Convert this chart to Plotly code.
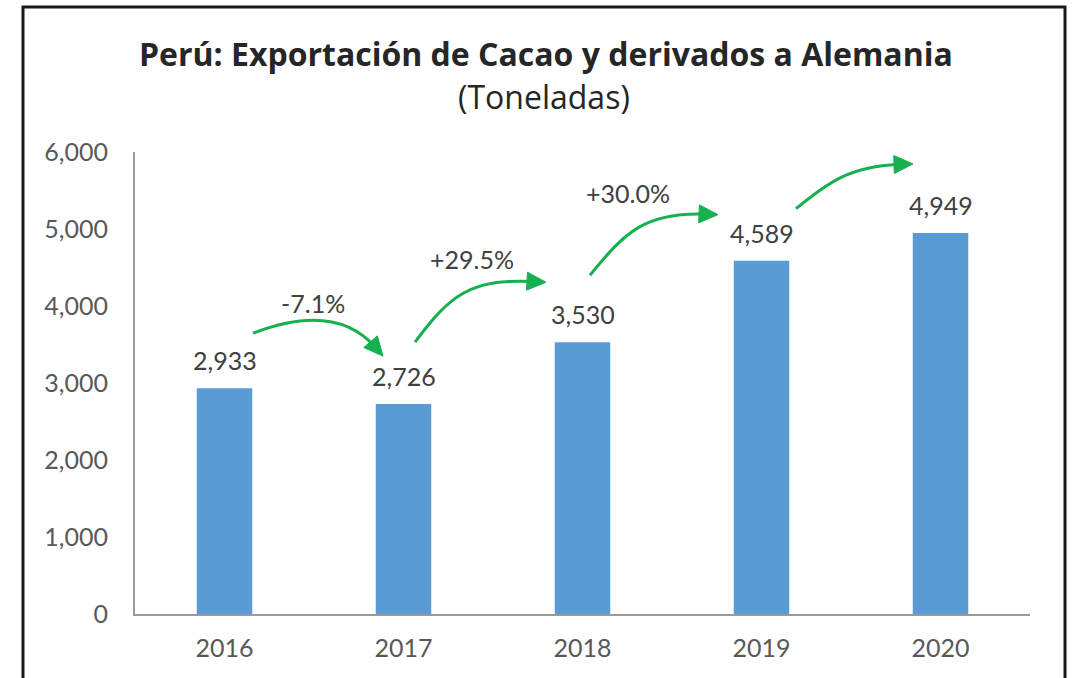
import math
import plotly.graph_objects as go

# ---------------- data ----------------
years = ["2016", "2017", "2018", "2019", "2020"]
tonnes = [2933, 2726, 3530, 4589, 4949]
growth_labels = ["-7.1%", "+29.5%", "+30.0%", "+7.8%"]
y_ticks = [0, 1000, 2000, 3000, 4000, 5000, 6000]

title_text = "Perú: Exportación de Cacao y derivados a Alemania"
subtitle_text = "(Toneladas)"

# ---------------- layout geometry ----------------
W, H = 1074, 678
M = dict(l=135, r=44, t=152, b=64)
YMAX = 6000
plot_w = W - M["l"] - M["r"]
plot_h = H - M["t"] - M["b"]
PX_X = len(years) / plot_w      # category units per pixel
PX_Y = YMAX / plot_h            # value units per pixel

FONT = "Lato"
TFONT = "Open Sans"
BLUE = "#5B9BD5"
GREEN = "#16B04F"
TXT = "#404040"
TICK = "#595959"
AXIS = "#9a9a9a"


def paper_x(px):
    return (px - M["l"]) / plot_w


def paper_y(py):
    return (H - M["b"] - py) / plot_h


# curved-arrow styling (pixel offsets; screen y positive = down)
arrow_style = [
    dict(s=(28.5, -55), e=(-20.5, -48), c1=(47, -18), c2=(-38, -44), lab=(60, -30)),
    dict(s=(11.5, -62), e=(-36.5, -60), c1=(35, -47), c2=(-76, -4), lab=(57, -83)),
    dict(s=(7.5, -67), e=(-43.5, -46), c1=(35, -43), c2=(-73, -3), lab=(38, -82)),
    dict(s=(34.5, -52), e=(-27.5, -69), c1=(34, -27), c2=(-63, 2), lab=(21, -58)),
]
HEAD_LEN, HEAD_HALF = 19, 9


def off(x, y, d):
    """shift a data point by a pixel offset"""
    return x + d[0] * PX_X, y - d[1] * PX_Y


xs = list(range(len(years)))

fig = go.Figure()
fig.add_trace(go.Bar(
    x=xs, y=tonnes, width=0.31, marker=dict(color=BLUE, line=dict(width=0)),
    hoverinfo="skip", showlegend=False,
))

annotations = []
shapes = []

# value labels
for x, v in zip(xs, tonnes):
    annotations.append(dict(
        x=x, y=v, xref="x", yref="y", text=f"{v:,}", showarrow=False,
        yanchor="middle", yshift=28,
        font=dict(family=FONT, size=25, color=TXT),
    ))

# growth arrows
for i, (lab, st) in enumerate(zip(growth_labels, arrow_style)):
    x0, y0 = off(xs[i], tonnes[i], st["s"])
    x3, y3 = off(xs[i + 1], tonnes[i + 1], st["e"])
    x1, y1 = off(x0, y0, st["c1"])
    x2, y2 = off(x3, y3, st["c2"])
    # direction of the curve at its end (pixels, pointing forward)
    cx, cy = st["c2"]
    n = math.hypot(cx, cy)
    ux, uy = -cx / n, -cy / n
    # stop the line a little before the tip so the head stays sharp
    xe, ye = off(x3, y3, (-ux * HEAD_LEN * 0.6, -uy * HEAD_LEN * 0.6))
    shapes.append(dict(
        type="path", xref="x", yref="y",
        path=f"M {x0},{y0} C {x1},{y1} {x2},{y2} {xe},{ye}",
        line=dict(color=GREEN, width=3),
    ))
    bx, by = -ux * HEAD_LEN, -uy * HEAD_LEN
    pxp, pyp = -uy * HEAD_HALF, ux * HEAD_HALF
    ax_, ay_ = off(x3, y3, (bx + pxp, by + pyp))
    bx_, by_ = off(x3, y3, (bx - pxp, by - pyp))
    shapes.append(dict(
        type="path", xref="x", yref="y",
        path=f"M {x3},{y3} L {ax_},{ay_} L {bx_},{by_} Z",
        fillcolor=GREEN, line=dict(color=GREEN, width=1),
    ))
    lx, ly = off(x0, y0, st["lab"])
    annotations.append(dict(
        x=lx, y=ly, xref="x", yref="y", text=lab, showarrow=False,
        font=dict(family=FONT, size=25, color=TXT),
    ))

# title
annotations.append(dict(
    x=paper_x(546), xref="paper", y=paper_y(53), yref="paper",
    text=f"<b>{title_text}</b>", showarrow=False, yanchor="middle", xanchor="center",
    font=dict(family=TFONT, size=32, color="#262626"),
))
annotations.append(dict(
    x=paper_x(544), xref="paper", y=paper_y(96), yref="paper",
    text=subtitle_text, showarrow=False, yanchor="middle", xanchor="center",
    font=dict(family=TFONT, size=32, color="#262626"),
))

# outer frame
shapes.append(dict(
    type="rect", xref="paper", yref="paper",
    x0=paper_x(23), x1=paper_x(1065), y0=paper_y(700), y1=paper_y(7),
    line=dict(color="#1a1a1a", width=3), fillcolor="rgba(0,0,0,0)", layer="above",
))

fig.update_layout(
    width=W, height=H, margin=M,
    paper_bgcolor="white", plot_bgcolor="white",
    showlegend=False, annotations=annotations, shapes=shapes,
    font=dict(family=FONT, color=TICK),
    xaxis=dict(
        range=[-0.5, len(years) - 0.5], tickvals=xs, ticktext=years,
        showgrid=False, zeroline=False, showline=True, linecolor=AXIS, linewidth=2,
        ticks="outside", ticklen=0, tickcolor="white", ticklabelstandoff=11,
        tickfont=dict(family=FONT, size=25, color=TICK), fixedrange=True,
    ),
    yaxis=dict(
        range=[0, YMAX], tickvals=y_ticks, tickformat=",",
        showgrid=False, zeroline=False, showline=True, linecolor=AXIS, linewidth=2,
        ticks="outside", ticklen=0, tickcolor="white", ticklabelstandoff=20,
        tickfont=dict(family=FONT, size=25, color=TICK), fixedrange=True,
    ),
    bargap=0.69,
)

fig.write_html("out.html", post_script="document.body.style.margin='0';",
               config={"displayModeBar": False})
